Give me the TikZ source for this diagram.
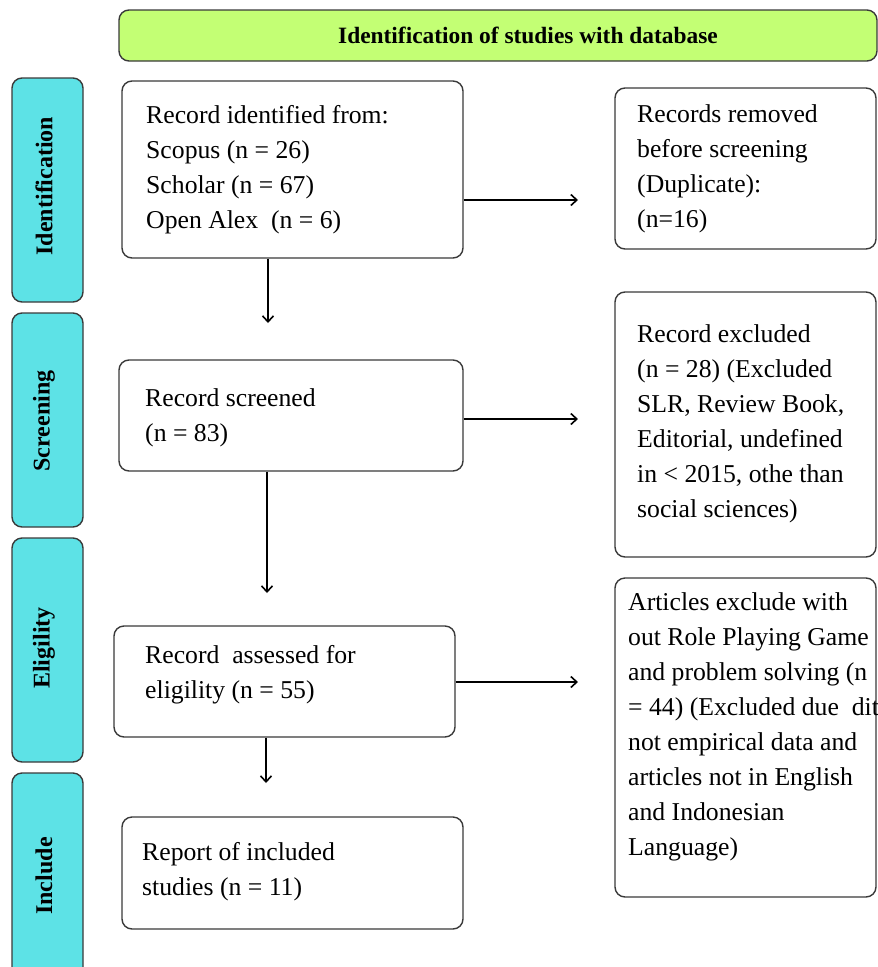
\documentclass[tikz,border=0pt]{standalone}
\usepackage{fontspec}
\setmainfont{Liberation Serif}
\usetikzlibrary{arrows.meta}
\definecolor{limebar}{HTML}{C3FF74}
\definecolor{cyanbox}{HTML}{5DE2E6}
\definecolor{edgegray}{HTML}{3A3A3A}
\begin{document}
\begin{tikzpicture}[x=1pt,y=-1pt,
  box/.style={draw=edgegray,line width=1.4pt,rounded corners=10pt,inner sep=0pt,fill=white},
  side/.style={draw=edgegray,line width=1.4pt,rounded corners=10pt,inner sep=0pt,fill=cyanbox},
  sidelabel/.style={rotate=90,inner sep=0pt,font=\fontsize{24}{28}\selectfont\bfseries},
  body/.style={anchor=north west,align=left,inner sep=0pt,font=\fontsize{25.7}{35}\selectfont},
  arr/.style={line width=1.8pt,-{Straight Barb[length=6pt,width=11pt,line width=1.6pt]}}
]
\useasboundingbox (0,0) rectangle (878,967);

% header
\node[box,fill=limebar,minimum width=758pt,minimum height=51pt] (head) at (498,35.5) {};
\node[anchor=base,inner sep=0pt,font=\fontsize{23.4}{28}\selectfont\bfseries] (headtxt) at (528,43) {Identification of studies with database};

% side phase boxes
\node[side,minimum width=71pt,minimum height=224pt] (s1) at (47.5,190) {};
\node[side,minimum width=71pt,minimum height=214pt] (s2) at (47.5,420) {};
\node[side,minimum width=71pt,minimum height=224pt] (s3) at (47.5,650) {};
\node[side,minimum width=71pt,minimum height=227pt] (s4) at (47.5,886.5) {};
\node[sidelabel] (l1) at (44,186) {Identification};
\node[sidelabel] (l2) at (44,421) {Screening};
\node[sidelabel] (l3) at (44,648) {Eligility};
\node[sidelabel] (l4) at (44,876) {Include};

% main boxes
\node[box,minimum width=341pt,minimum height=177pt] (b1) at (292.5,169.5) {};
\node[box,minimum width=344pt,minimum height=111pt] (b2) at (291,415.5) {};
\node[box,minimum width=341pt,minimum height=111pt] (b3) at (284.5,681.5) {};
\node[box,minimum width=341pt,minimum height=112pt] (b4) at (292.5,873) {};

% right boxes
\node[box,minimum width=261pt,minimum height=161pt] (r1) at (745.5,168.5) {};
\node[box,minimum width=261pt,minimum height=265pt] (r2) at (745.5,424.5) {};
\node[box,minimum width=261pt,minimum height=319pt] (r3) at (745.5,737.5) {};

% texts
\node[body] (t1) at (146,97) {\rule{0pt}{26pt}Record identified from:\\Scopus (n = 26)\\Scholar (n = 67)\\Open Alex\ \ (n = 6)};
\node[body] (t2) at (145,380) {\rule{0pt}{26pt}Record screened\\(n = 83)};
\node[body] (t3) at (145,637) {\rule{0pt}{26pt}Record\ \ assessed for\\eligility (n = 55)};
\node[body] (t4) at (142,834) {\rule{0pt}{26pt}Report of included\\studies (n = 11)};
\node[body] (tr1) at (637,96) {\rule{0pt}{26pt}Records removed\\before screening\\(Duplicate):\\(n=16)};
\node[body] (tr2) at (637,316) {\rule{0pt}{26pt}Record excluded\\(n = 28) (Excluded\\SLR, Review Book,\\Editorial, undefined\\in < 2015, othe than\\social sciences)};
\node[body] (tr3) at (628,584) {\rule{0pt}{26pt}Articles exclude with\\out Role Playing Game\\and problem solving (n\\= 44) (Excluded due\ \ dit\\not empirical data and\\articles not in English\\and Indonesian\\Language)};

% arrow end points
\coordinate (v1) at (268,323);
\coordinate (v2) at (267,593);
\coordinate (v3) at (266,783);
\coordinate (h1) at (578,200);
\coordinate (h2) at (578,419);
\coordinate (h3) at (578,682);

\draw[arr] (b1.south -| v1) -- (v1);
\draw[arr] (b2.south -| v2) -- (v2);
\draw[arr] (b3.south -| v3) -- (v3);
\draw[arr] (b1.east |- h1) -- (h1);
\draw[arr] (b2.east |- h2) -- (h2);
\draw[arr] (b3.east |- h3) -- (h3);
\end{tikzpicture}
\end{document}
